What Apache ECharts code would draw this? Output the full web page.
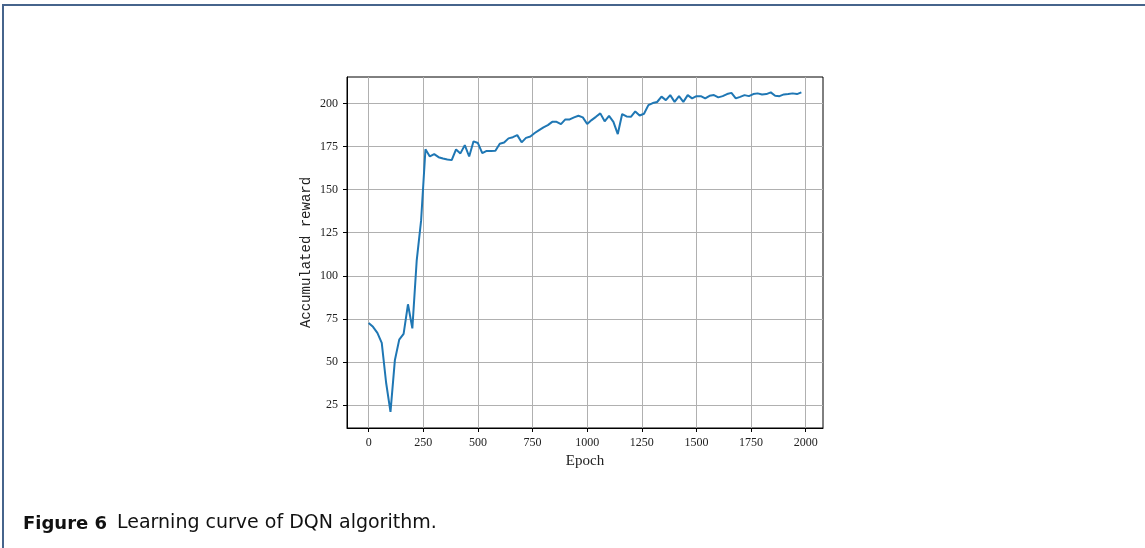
<!DOCTYPE html>
<html>
<head>
<meta charset="utf-8">
<title>Learning curve of DQN algorithm</title>
<script src="https://cdn.jsdelivr.net/npm/echarts@6/dist/echarts.min.js"></script>
<style>
  html, body { margin: 0; padding: 0; background: #ffffff; }
  #chart { width: 1145px; height: 548px; }
</style>
</head>
<body>
<div id="chart"></div>
<script>
// Training epochs (one sample every 20 epochs)
const epochs = [
  0, 20, 40, 60, 80, 100, 120, 140, 160, 180,
  200, 220, 240, 260, 280, 300, 320, 340, 360, 380,
  400, 420, 440, 460, 480, 500, 520, 540, 560, 580,
  600, 620, 640, 660, 680, 700, 720, 740, 760, 780,
  800, 820, 840, 860, 880, 900, 920, 940, 960, 980,
  1000, 1020, 1040, 1060, 1080, 1100, 1120, 1140, 1160, 1180,
  1200, 1220, 1240, 1260, 1280, 1300, 1320, 1340, 1360, 1380,
  1400, 1420, 1440, 1460, 1480, 1500, 1520, 1540, 1560, 1580,
  1600, 1620, 1640, 1660, 1680, 1700, 1720, 1740, 1760, 1780,
  1800, 1820, 1840, 1860, 1880, 1900, 1920, 1940, 1960, 1980
];

// Accumulated reward at each sampled epoch
const rewards = [
  72.7, 70.4, 66.9, 61.1, 38.0, 21.1, 51.0, 63.0, 66.3, 83.5,
  69.5, 109.0, 132.0, 173.4, 169.2, 170.6, 168.8, 168.0, 167.5, 167.1,
  173.3, 171.0, 175.8, 169.2, 178.0, 177.0, 171.1, 172.4, 172.4, 172.5,
  176.6, 177.3, 179.7, 180.4, 181.6, 177.4, 180.0, 180.8, 182.8, 184.5,
  186.1, 187.4, 189.3, 189.3, 188.0, 190.7, 190.7, 191.9, 192.8, 191.9,
  188.0, 190.3, 192.2, 194.2, 189.6, 192.7, 189.3, 182.2, 193.8, 192.4,
  192.2, 195.3, 193.0, 194.0, 199.0, 200.2, 200.8, 203.9, 201.9, 204.8,
  200.9, 204.2, 200.9, 204.8, 202.9, 204.2, 204.2, 202.9, 204.4, 204.8,
  203.5, 204.2, 205.4, 206.1, 202.9, 203.8, 204.8, 204.2, 205.4, 205.8,
  205.2, 205.4, 206.4, 204.4, 204.2, 205.2, 205.4, 205.8, 205.4, 206.4
];

// Tick positions
const xTicks = [0, 250, 500, 750, 1000, 1250, 1500, 1750, 2000];
const yTicks = [25, 50, 75, 100, 125, 150, 175, 200];

const chart = echarts.init(document.getElementById('chart'), null, { renderer: 'canvas' });

const tickFont = { fontFamily: 'Liberation Serif', fontSize: 12, color: '#222222' };
const gridLine = { show: true, lineStyle: { color: '#b0b0b0', width: 1 } };
const plainNumber = (v) => String(v);

const option = {
  backgroundColor: '#ffffff',
  animation: false,
  grid: {
    left: 347, top: 77, right: 322, bottom: 120,
    show: true, borderColor: '#000000', borderWidth: 1,
    backgroundColor: 'transparent'
  },
  xAxis: {
    type: 'value',
    min: -99,
    max: 2079,
    name: 'Epoch',
    nameLocation: 'middle',
    nameGap: 24,
    nameTextStyle: { fontFamily: 'Liberation Serif', fontSize: 15, color: '#222222' },
    axisLine: { show: true, onZero: false, lineStyle: { color: '#000000', width: 1 } },
    axisTick: { show: true, length: 4, customValues: xTicks, lineStyle: { color: '#000000' } },
    axisLabel: Object.assign({ margin: 9, customValues: xTicks, formatter: plainNumber }, tickFont),
    splitLine: gridLine
  },
  yAxis: {
    type: 'value',
    min: 11.75,
    max: 215.3,
    name: 'Accumulated reward',
    nameLocation: 'middle',
    nameGap: 34,
    nameRotate: 90,
    nameTextStyle: { fontFamily: 'Liberation Mono', fontSize: 14, color: '#222222' },
    axisLine: { show: true, onZero: false, lineStyle: { color: '#000000', width: 1 } },
    axisTick: { show: true, length: 4, customValues: yTicks, lineStyle: { color: '#000000' } },
    axisLabel: Object.assign({ margin: 9, customValues: yTicks, formatter: plainNumber }, tickFont),
    splitLine: gridLine
  },
  series: [{
    type: 'line',
    data: epochs.map((e, i) => [e, rewards[i]]),
    showSymbol: false,
    smooth: false,
    lineStyle: { color: '#1f77b4', width: 2 },
    itemStyle: { color: '#1f77b4' },
    z: 3
  }],
  graphic: [
    {
      type: 'polyline',
      shape: { points: [[3, 548], [3, 5], [1145, 5]] },
      style: { stroke: '#46648c', lineWidth: 2, fill: null },
      silent: true
    },
    {
      type: 'text',
      left: 23, top: 515,
      style: {
        text: 'Figure 6',
        font: 'bold 18px "DejaVu Sans"',
        fill: '#111111'
      }
    },
    {
      type: 'text',
      left: 117, top: 514,
      style: {
        text: 'Learning curve of DQN algorithm.',
        font: '19px "DejaVu Sans"',
        fill: '#111111'
      }
    }
  ]
};

chart.setOption(option);
</script>
</body>
</html>
